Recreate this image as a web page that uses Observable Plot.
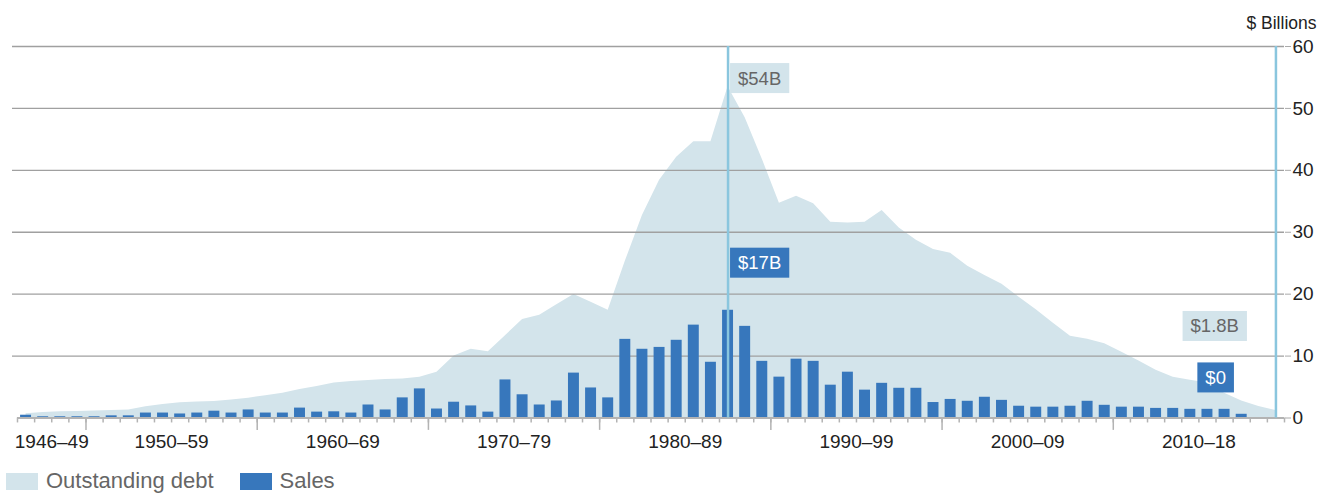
<!DOCTYPE html>
<html><head><meta charset="utf-8">
<script src="https://cdn.jsdelivr.net/npm/d3@7"></script>
<script src="https://cdn.jsdelivr.net/npm/@observablehq/plot@0.6"></script>
<style>
body{margin:0;background:#fff;font-family:"Liberation Sans",Arial,Helvetica,sans-serif;}
#wrap{position:relative;width:1326px;height:493px;overflow:hidden;}
#legend{position:absolute;left:6px;top:470px;display:flex;align-items:center;font-size:22px;color:#666;line-height:22px;}
.sw{width:32px;height:17px;display:inline-block;margin-right:8px;}
.item{display:flex;align-items:center;margin-right:26px;}
</style></head><body>
<div id="wrap"><div id="chart"></div>
<div id="legend"><div class="item"><span class="sw" style="background:#d3e4eb"></span>Outstanding debt</div><div class="item"><span class="sw" style="background:#3777bc"></span>Sales</div></div>
</div>
<script>
const years = [1946,1947,1948,1949,1950,1951,1952,1953,1954,1955,1956,1957,1958,1959,
  1960,1961,1962,1963,1964,1965,1966,1967,1968,1969,1970,1971,1972,1973,1974,1975,1976,1977,1978,1979,
  1980,1981,1982,1983,1984,1985,1986,1987,1988,1989,1990,1991,1992,1993,1994,1995,1996,1997,1998,1999,
  2000,2001,2002,2003,2004,2005,2006,2007,2008,2009,2010,2011,2012,2013,2014,2015,2016,2017,2018,2019];
const debt = [0.7,0.9,1.0,1.05,1.15,1.2,1.3,1.8,2.2,2.45,2.6,2.65,2.9,3.2,
  3.6,4.0,4.6,5.1,5.65,5.9,6.05,6.2,6.3,6.6,7.4,10.0,11.1,10.7,13.3,15.9,16.6,18.3,19.95,18.7,
  17.4,25.3,32.7,38.4,42.1,44.6,44.6,53.5,48.5,41.8,34.7,35.8,34.6,31.6,31.5,31.6,33.5,30.7,28.7,27.2,
  26.6,24.5,23.0,21.6,19.5,17.5,15.3,13.2,12.7,12.0,10.6,9.2,7.7,6.6,6.1,5.65,4.0,2.75,1.85,1.2];
const sales = [0.45,0.2,0.2,0.2,0.2,0.35,0.35,0.8,0.8,0.65,0.8,1.1,0.8,1.3,
  0.8,0.8,1.6,0.95,1.0,0.8,2.1,1.3,3.25,4.7,1.45,2.55,1.95,0.95,6.15,3.75,2.1,2.75,7.25,4.85,
  3.25,12.7,11.1,11.4,12.55,15.0,9.0,17.4,14.8,9.15,6.6,9.5,9.15,5.3,7.4,4.5,5.6,4.8,4.8,2.5,
  3.0,2.7,3.35,2.85,1.9,1.75,1.75,1.9,2.7,2.05,1.75,1.75,1.55,1.55,1.4,1.4,1.4,0.6,0,0];
const decadeLabels = ["1946–49","1950–59","1960–69","1970–79","1980–89","1990–99","2000–09","2010–18"];
const decadeStart = [1946,1950,1960,1970,1980,1990,2000,2010];
const decadeEnd = [1949,1959,1969,1979,1989,1999,2009,2019];
const yTicks = [0,10,20,30,40,50,60];
const highlightYears = [1987,2019];
const peakLabel = "$54B", peakSalesLabel = "$17B", lastDebtLabel = "$1.8B", lastSalesLabel = "$0";

const data = years.map((year,i)=>({year, debt: debt[i], sales: sales[i]}));
const bounds = [...years.map(y=>y-0.5), years[years.length-1]+0.5];
const majors = decadeEnd.slice(0,-1).map(y=>y+0.5);
const decades = decadeLabels.map((label,i)=>({label, mid:(decadeStart[i]+decadeEnd[i])/2}));
const peak = data.find(d=>d.year===1987);
const last = data[data.length-1];
const prev = data[data.length-2];
const font = '"Liberation Sans",Arial,Helvetica,sans-serif';

const chart = Plot.plot({
  width:1326, height:460,
  marginLeft:17, marginRight:42, marginTop:46, marginBottom:42.5,
  x:{domain:[1945.5,2019.5], axis:null},
  y:{domain:[0,60], axis:null},
  style:{fontFamily:font, background:"transparent", overflow:"visible"},
  marks:[
    Plot.areaY(data,{x:"year", y:"debt", fill:"#d3e4eb"}),
    Plot.ruleY(yTicks.filter(t=>t>0),{stroke:"#a0a0a0", strokeWidth:1.3, insetLeft:-5}),
    Plot.rect(data,{x1:d=>d.year-0.32, x2:d=>d.year+0.32, y1:0, y2:"sales", fill:"#3777bc"}),
    Plot.ruleY([0],{stroke:"#b3b3b3", strokeWidth:2}),
    Plot.ruleX(bounds,{y1:0, y2:-0.8, stroke:"#b3b3b3", strokeWidth:1.5}),
    Plot.ruleX(majors,{y1:0, y2:-2, stroke:"#b3b3b3", strokeWidth:1.5}),
    Plot.text(decades,{x:"mid", y:0, text:"label", dy:24, fontSize:19, fill:"#222"}),
    Plot.ruleX(highlightYears,{y1:0, y2:60, stroke:"#8ac6de", strokeWidth:2.5}),
    Plot.axisY({anchor:"right", ticks:yTicks, tickSize:6, tickPadding:2, fontSize:19, stroke:"#aaa", fill:"#222", label:null}),
    Plot.text([peak],{x:"year", y:()=>54, text:()=>peakLabel, textAnchor:"start", dx:10, dy:-5, fontSize:18.5, fill:"#666"}),
    Plot.text([peak],{x:"year", y:"sales", text:()=>peakSalesLabel, textAnchor:"start", dx:10, dy:-47, fontSize:18.5, fill:"#fff"}),
    Plot.text([last],{x:"year", y:()=>prev.debt, text:()=>lastDebtLabel, textAnchor:"end", dx:-37, dy:-80, fontSize:18.5, fill:"#666"}),
    Plot.text([last],{x:"year", y:"sales", text:()=>lastSalesLabel, textAnchor:"end", dx:-50, dy:-40, fontSize:18.5, fill:"#fff"}),
    Plot.text(["$ Billions"],{frameAnchor:"top-right", dx:32, dy:-30, textAnchor:"end", fontSize:17.5, fill:"#222"})
  ]
});
document.getElementById("chart").appendChild(chart);

const boxFill = {[peakLabel]:"#d3e4eb", [peakSalesLabel]:"#3777bc", [lastDebtLabel]:"#d3e4eb", [lastSalesLabel]:"#3777bc"};
chart.querySelectorAll("text").forEach(t=>{
  const s = t.textContent;
  if (!(s in boxFill)) return;
  const b = t.getBBox();
  const r = document.createElementNS("http://www.w3.org/2000/svg","rect");
  r.setAttribute("x", b.x-8);
  r.setAttribute("width", b.width+16);
  r.setAttribute("y", b.y + b.height/2 - 15);
  r.setAttribute("height", 30);
  r.setAttribute("fill", boxFill[s]);
  r.setAttribute("stroke", "none");
  const tr = t.getAttribute("transform");
  if (tr) r.setAttribute("transform", tr);
  t.parentNode.insertBefore(r, t);
});
</script>
</body></html>
